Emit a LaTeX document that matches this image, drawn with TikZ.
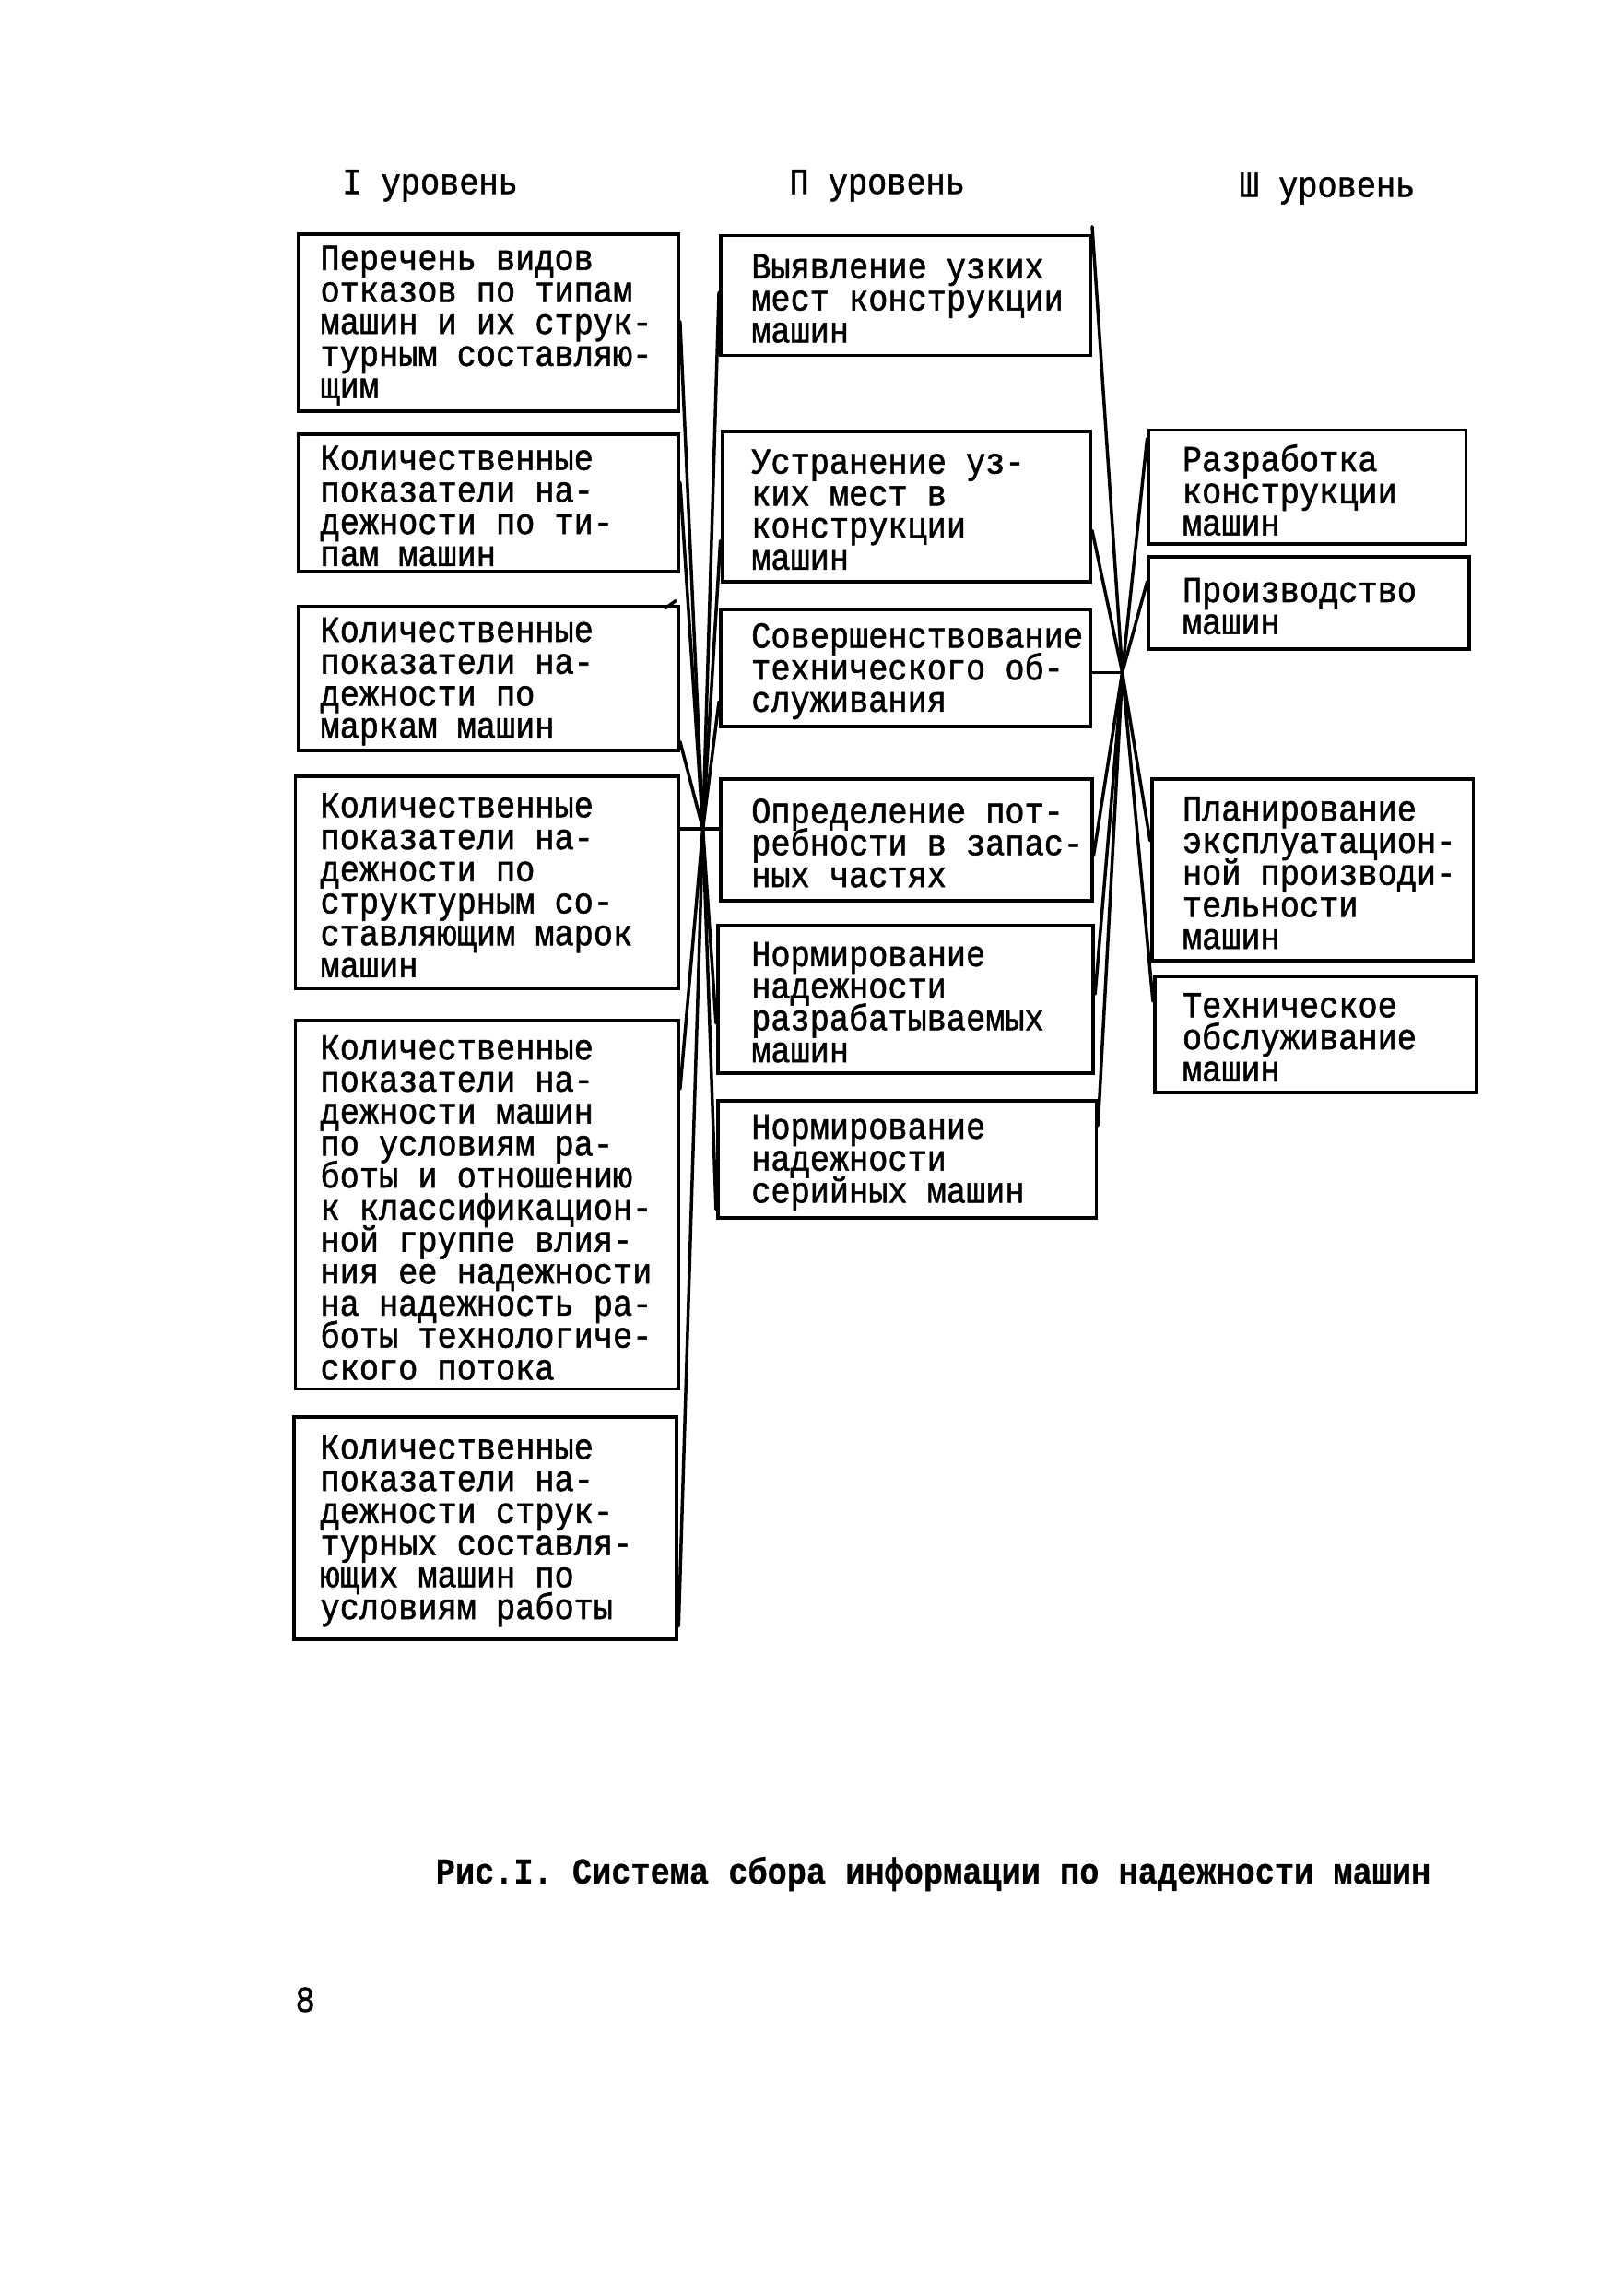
\documentclass[tikz,border=0pt]{standalone}
\usepackage{fontspec}
\newfontfamily\boxfont{Liberation Mono}[FakeStretch=0.89,FakeBold=1.3]
\newfontfamily\capfont{Liberation Mono}[FakeStretch=0.89,FakeBold=0.6]
\newcommand\tightlines{\setlength\lineskiplimit{-30pt}\setlength\lineskip{0pt}}
\newcommand\dbox[7]{%
  \node[box, minimum width={#4-#2}, minimum height={#5-#3}] (#1) at (#2,#3) {};
  \node[txt] (#1t) at ([xshift=#6pt,yshift=-2pt]#1.west) {#7};}
\begin{document}
\begin{tikzpicture}[x=1pt,y=-1pt,
  box/.style={draw, line width=2.4pt, inner sep=0pt, anchor=north west},
  txt/.style={anchor=west, inner sep=0pt, align=left, font={\boxfont\fontsize{25}{21.9}\selectfont\tightlines}},
  link/.style={line width=2.2pt, line cap=round},
  hdr/.style={anchor=west, inner sep=0pt, font=\boxfont\fontsize{25}{22}\selectfont}]
\useasboundingbox (0,0) rectangle (1111,1568);
\fill[white] (0,0) rectangle (1111,1568);

\node[hdr] (l1) at (234,127) {I уровень};
\node[hdr] (l2) at (540,127) {П уровень};
\node[hdr] (l3) at (848,129) {Ш уровень};

% column I
\dbox{a1}{203}{159}{463}{280}{16}{Перечень видов\\отказов по типам\\машин и их струк-\\турным составляю-\\щим}
\dbox{a2}{203}{296}{463}{390}{16}{Количественные\\показатели на-\\дежности по ти-\\пам машин}
\dbox{a3}{203}{414}{463}{512}{16}{Количественные\\показатели на-\\дежности по\\маркам машин}
\dbox{a4}{201}{530}{463}{675}{18}{Количественные\\показатели на-\\дежности по\\структурным со-\\ставляющим марок\\машин}
\dbox{a5}{201}{697}{463}{949}{18}{Количественные\\показатели на-\\дежности машин\\по условиям ра-\\боты и отношению\\к классификацион-\\ной группе влия-\\ния ее надежности\\на надежность ра-\\боты технологиче-\\ского потока}
\dbox{a6}{200}{968}{462}{1120}{19}{Количественные\\показатели на-\\дежности струк-\\турных составля-\\ющих машин по\\условиям работы}

% column II
\dbox{b1}{492}{160}{745}{242}{22}{Выявление узких\\мест конструкции\\машин}
\dbox{b2}{493}{294}{745}{397}{21}{Устранение уз-\\ких мест в\\конструкции\\машин}
\dbox{b3}{492}{416}{745}{496}{22}{Совершенствование\\технического об-\\служивания}
\dbox{b4}{492}{532}{746}{615}{22}{Определение пот-\\ребности в запас-\\ных частях}
\dbox{b5}{490}{632}{747}{733}{24}{Нормирование\\надежности\\разрабатываемых\\машин}
\dbox{b6}{490}{752}{749}{832}{24}{Нормирование\\надежности\\серийных машин}

% column III
\dbox{c1}{785}{293}{1002}{371}{24}{Разработка\\конструкции\\машин}
\dbox{c2}{785}{380}{1004}{443}{24}{Производство\\машин}
\dbox{c3}{787}{532}{1007}{656}{22}{Планирование\\эксплуатацион-\\ной производи-\\тельности\\машин}
\dbox{c4}{789}{667}{1009}{746}{20}{Техническое\\обслуживание\\машин}

\coordinate (h1) at (481,567);
\coordinate (h2) at (768,460);

% level I -> hub 1
\draw[link] ([yshift=-61pt]a1.north east) -- (h1);
\draw[link] ([yshift=-34pt]a2.north east) -- (h1);
\draw[link] ([yshift=7pt]a3.south east) -- (h1);
\draw[link] (a4.east |- h1) -- (b4.west |- h1);
\draw[link] ([yshift=-48pt]a5.north east) -- (h1);
\draw[link] ([yshift=10pt]a6.south east) -- (h1);
\draw[link] ([xshift=-10pt,yshift=-2pt]a3.north east) -- ([xshift=-3pt,yshift=3pt]a3.north east);
% hub 1 -> level II
\draw[link] (h1) -- ([yshift=-40pt]b1.north west);
\draw[link] (h1) -- ([yshift=-76pt]b2.north west);
\draw[link] (h1) -- ([yshift=-64pt]b3.north west);
\draw[link] (h1) -- ([yshift=-68pt]b5.north west);
\draw[link] (h1) -- ([yshift=7pt]b6.south west);

% level II -> hub 2
\draw[link] ([yshift=5pt]b1.north east) -- (h2);
\draw[link] ([yshift=-69pt]b2.north east) -- (h2);
\draw[link] (b3.east |- h2) -- (h2);
\draw[link] ([yshift=-53pt]b4.north east) -- (h2);
\draw[link] ([yshift=-48pt]b5.north east) -- (h2);
\draw[link] ([yshift=-18pt]b6.north east) -- (h2);
% hub 2 -> level III
\draw[link] (h2) -- ([yshift=-7pt]c1.north west);
\draw[link] (h2) -- ([yshift=-18pt]c2.north west);
\draw[link] (h2) -- ([yshift=-43pt]c3.north west);
\draw[link] (h2) -- ([yshift=-18pt]c4.north west);

\node[anchor=west, inner sep=0pt, font=\capfont\bfseries\fontsize{25}{22}\selectfont] (cap) at (298,1282) {Рис.I. Система сбора информации по надежности машин};
\node[hdr] (pg) at (202,1368) {8};
\end{tikzpicture}
\end{document}
